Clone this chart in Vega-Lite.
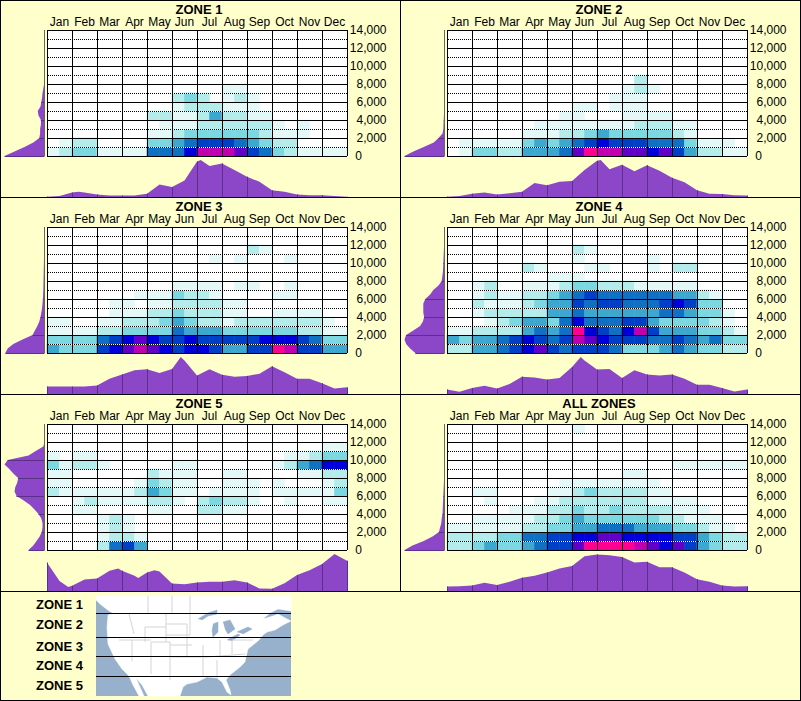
{"$schema":"https://vega.github.io/schema/vega-lite/v6.json","background":"#FFFFCC","padding":0,"autosize":{"type":"pad"},"columns":9,"spacing":0,"bounds":"flush","align":"each","data":{"name":"n"},
"config":{"font":"Liberation Sans","view":{"stroke":null},"legend":{"disable":true},"range":{"heatmap":["#ffffff","#e4f8f8","#b4ecec","#7cd8e0","#3ca8d0","#1070c4","#0040c8","#0000dc","#6000c8","#c000b0","#ff0090"],"ramp":["#ffffff","#e4f8f8","#b4ecec","#7cd8e0","#3ca8d0","#1070c4","#0040c8","#0000dc","#6000c8","#c000b0","#ff0090"]},"title":{"fontSize":13,"fontWeight":"bold","color":"#000","dx":2,"offset":-1}},
"datasets":{"n":[],
"mo":[{"m":0.5,"label":"Jan"},{"m":2.5,"label":"Feb"},{"m":4.5,"label":"Mar"},{"m":6.5,"label":"Apr"},{"m":8.5,"label":"May"},{"m":10.5,"label":"Jun"},{"m":12.5,"label":"Jul"},{"m":14.5,"label":"Aug"},{"m":16.5,"label":"Sep"},{"m":18.5,"label":"Oct"},{"m":20.5,"label":"Nov"},{"m":22.5,"label":"Dec"}],
"alt":[{"a":2000,"label":"2,000"},{"a":4000,"label":"4,000"},{"a":6000,"label":"6,000"},{"a":8000,"label":"8,000"},{"a":10000,"label":"10,000"},{"a":12000,"label":"12,000"},{"a":14000,"label":"14,000"}],
"z0":[{"a":0,"label":"0"}],
"hs":[{"a":0},{"a":2000},{"a":4000},{"a":6000},{"a":8000},{"a":10000},{"a":12000},{"a":14000}],
"hd":[{"a":1000},{"a":3000},{"a":5000},{"a":7000},{"a":9000},{"a":11000},{"a":13000}],
"vg":[{"m":-0.5},{"m":1.5},{"m":3.5},{"m":5.5},{"m":7.5},{"m":9.5},{"m":11.5},{"m":13.5},{"m":15.5},{"m":17.5},{"m":19.5},{"m":21.5},{"m":23.5}],
"d1":[{"m":0,"a":500,"v":1},{"m":1,"a":500,"v":2},{"m":2,"a":500,"v":3},{"m":3,"a":500,"v":3},{"m":4,"a":500,"v":1},{"m":5,"a":500,"v":1},{"m":6,"a":500,"v":1},{"m":7,"a":500,"v":1},{"m":8,"a":500,"v":5},{"m":9,"a":500,"v":5},{"m":10,"a":500,"v":5},{"m":11,"a":500,"v":7},{"m":12,"a":500,"v":9},{"m":13,"a":500,"v":9},{"m":14,"a":500,"v":9},{"m":15,"a":500,"v":8},{"m":16,"a":500,"v":6},{"m":17,"a":500,"v":5},{"m":18,"a":500,"v":3},{"m":19,"a":500,"v":2},{"m":20,"a":500,"v":1},{"m":21,"a":500,"v":1},{"m":22,"a":500,"v":1},{"m":23,"a":500,"v":1},
{"m":1,"a":1500,"v":1},{"m":2,"a":1500,"v":2},{"m":3,"a":1500,"v":2},{"m":8,"a":1500,"v":3},{"m":9,"a":1500,"v":3},{"m":10,"a":1500,"v":4},{"m":11,"a":1500,"v":5},{"m":12,"a":1500,"v":6},{"m":13,"a":1500,"v":6},{"m":14,"a":1500,"v":6},{"m":15,"a":1500,"v":5},{"m":16,"a":1500,"v":4},{"m":17,"a":1500,"v":3},{"m":18,"a":1500,"v":2},{"m":19,"a":1500,"v":2},
{"m":8,"a":2500,"v":1},{"m":9,"a":2500,"v":1},{"m":10,"a":2500,"v":2},{"m":11,"a":2500,"v":3},{"m":12,"a":2500,"v":3},{"m":13,"a":2500,"v":3},{"m":14,"a":2500,"v":3},{"m":15,"a":2500,"v":3},{"m":16,"a":2500,"v":3},{"m":17,"a":2500,"v":2},{"m":18,"a":2500,"v":1},{"m":19,"a":2500,"v":1},{"m":20,"a":2500,"v":1},
{"m":9,"a":3500,"v":1},{"m":10,"a":3500,"v":1},{"m":11,"a":3500,"v":1},{"m":12,"a":3500,"v":2},{"m":13,"a":3500,"v":2},{"m":14,"a":3500,"v":2},{"m":15,"a":3500,"v":2},{"m":16,"a":3500,"v":2},{"m":17,"a":3500,"v":2},{"m":18,"a":3500,"v":1},{"m":20,"a":3500,"v":1},
{"m":8,"a":4500,"v":2},{"m":9,"a":4500,"v":2},{"m":10,"a":4500,"v":1},{"m":11,"a":4500,"v":1},{"m":12,"a":4500,"v":2},{"m":13,"a":4500,"v":4},{"m":14,"a":4500,"v":2},{"m":15,"a":4500,"v":2},{"m":16,"a":4500,"v":1},{"m":17,"a":4500,"v":1},
{"m":10,"a":5500,"v":1},{"m":11,"a":5500,"v":2},{"m":12,"a":5500,"v":2},{"m":13,"a":5500,"v":2},{"m":14,"a":5500,"v":1},{"m":15,"a":5500,"v":1},{"m":16,"a":5500,"v":1},
{"m":10,"a":6500,"v":2},{"m":11,"a":6500,"v":3},{"m":12,"a":6500,"v":2},{"m":14,"a":6500,"v":1},{"m":15,"a":6500,"v":2},{"m":16,"a":6500,"v":1},{"m":14,"a":7500,"v":1},{"m":15,"a":7500,"v":1}],
"d2":[{"m":1,"a":500,"v":1},{"m":2,"a":500,"v":3},{"m":3,"a":500,"v":3},{"m":4,"a":500,"v":2},{"m":5,"a":500,"v":2},{"m":6,"a":500,"v":4},{"m":7,"a":500,"v":4},{"m":8,"a":500,"v":4},{"m":9,"a":500,"v":5},{"m":10,"a":500,"v":8},{"m":11,"a":500,"v":10},{"m":12,"a":500,"v":9},{"m":13,"a":500,"v":9},{"m":14,"a":500,"v":8},{"m":15,"a":500,"v":8},{"m":16,"a":500,"v":7},{"m":17,"a":500,"v":8},{"m":18,"a":500,"v":6},{"m":19,"a":500,"v":4},{"m":20,"a":500,"v":2},{"m":21,"a":500,"v":2},{"m":22,"a":500,"v":1},{"m":23,"a":500,"v":1},
{"m":1,"a":1500,"v":1},{"m":2,"a":1500,"v":1},{"m":3,"a":1500,"v":1},{"m":4,"a":1500,"v":1},{"m":5,"a":1500,"v":1},{"m":6,"a":1500,"v":3},{"m":7,"a":1500,"v":4},{"m":8,"a":1500,"v":3},{"m":9,"a":1500,"v":4},{"m":10,"a":1500,"v":5},{"m":11,"a":1500,"v":6},{"m":12,"a":1500,"v":7},{"m":13,"a":1500,"v":6},{"m":14,"a":1500,"v":6},{"m":15,"a":1500,"v":6},{"m":16,"a":1500,"v":5},{"m":17,"a":1500,"v":5},{"m":18,"a":1500,"v":5},{"m":19,"a":1500,"v":3},{"m":20,"a":1500,"v":1},{"m":21,"a":1500,"v":1},{"m":22,"a":1500,"v":1},
{"m":6,"a":2500,"v":1},{"m":7,"a":2500,"v":1},{"m":8,"a":2500,"v":1},{"m":9,"a":2500,"v":2},{"m":10,"a":2500,"v":2},{"m":11,"a":2500,"v":3},{"m":12,"a":2500,"v":4},{"m":13,"a":2500,"v":3},{"m":14,"a":2500,"v":3},{"m":15,"a":2500,"v":3},{"m":16,"a":2500,"v":3},{"m":17,"a":2500,"v":3},{"m":18,"a":2500,"v":2},{"m":19,"a":2500,"v":1},
{"m":7,"a":3500,"v":1},{"m":8,"a":3500,"v":1},{"m":9,"a":3500,"v":1},{"m":10,"a":3500,"v":1},{"m":11,"a":3500,"v":1},{"m":12,"a":3500,"v":1},{"m":13,"a":3500,"v":1},{"m":14,"a":3500,"v":1},{"m":15,"a":3500,"v":2},{"m":16,"a":3500,"v":2},{"m":17,"a":3500,"v":2},{"m":18,"a":3500,"v":1},{"m":19,"a":3500,"v":1},
{"m":9,"a":4500,"v":1},{"m":10,"a":4500,"v":1},{"m":14,"a":4500,"v":1},{"m":15,"a":4500,"v":1},{"m":16,"a":4500,"v":1},{"m":17,"a":4500,"v":1},{"m":10,"a":5500,"v":1},{"m":11,"a":5500,"v":1},{"m":13,"a":5500,"v":1},{"m":14,"a":5500,"v":1},{"m":15,"a":5500,"v":1},{"m":13,"a":6500,"v":1},{"m":14,"a":6500,"v":1},{"m":15,"a":6500,"v":1},{"m":14,"a":7500,"v":1},{"m":15,"a":7500,"v":2},{"m":16,"a":7500,"v":1},{"m":15,"a":8500,"v":2}],
"d3":[{"m":0,"a":500,"v":4},{"m":1,"a":500,"v":3},{"m":2,"a":500,"v":3},{"m":3,"a":500,"v":3},{"m":4,"a":500,"v":6},{"m":5,"a":500,"v":7},{"m":6,"a":500,"v":8},{"m":7,"a":500,"v":9},{"m":8,"a":500,"v":8},{"m":9,"a":500,"v":7},{"m":10,"a":500,"v":6},{"m":11,"a":500,"v":7},{"m":12,"a":500,"v":7},{"m":13,"a":500,"v":6},{"m":14,"a":500,"v":4},{"m":15,"a":500,"v":4},{"m":16,"a":500,"v":6},{"m":17,"a":500,"v":6},{"m":18,"a":500,"v":10},{"m":19,"a":500,"v":9},{"m":20,"a":500,"v":6},{"m":21,"a":500,"v":6},{"m":22,"a":500,"v":4},{"m":23,"a":500,"v":4},
{"m":0,"a":1500,"v":3},{"m":1,"a":1500,"v":3},{"m":2,"a":1500,"v":3},{"m":3,"a":1500,"v":3},{"m":4,"a":1500,"v":5},{"m":5,"a":1500,"v":6},{"m":6,"a":1500,"v":7},{"m":7,"a":1500,"v":8},{"m":8,"a":1500,"v":7},{"m":9,"a":1500,"v":6},{"m":10,"a":1500,"v":6},{"m":11,"a":1500,"v":7},{"m":12,"a":1500,"v":6},{"m":13,"a":1500,"v":6},{"m":14,"a":1500,"v":6},{"m":15,"a":1500,"v":6},{"m":16,"a":1500,"v":6},{"m":17,"a":1500,"v":7},{"m":18,"a":1500,"v":7},{"m":19,"a":1500,"v":7},{"m":20,"a":1500,"v":6},{"m":21,"a":1500,"v":5},{"m":22,"a":1500,"v":3},{"m":23,"a":1500,"v":3},
{"m":0,"a":2500,"v":1},{"m":1,"a":2500,"v":1},{"m":2,"a":2500,"v":1},{"m":3,"a":2500,"v":1},{"m":4,"a":2500,"v":2},{"m":5,"a":2500,"v":2},{"m":6,"a":2500,"v":3},{"m":7,"a":2500,"v":3},{"m":8,"a":2500,"v":3},{"m":9,"a":2500,"v":3},{"m":10,"a":2500,"v":5},{"m":11,"a":2500,"v":4},{"m":12,"a":2500,"v":4},{"m":13,"a":2500,"v":4},{"m":14,"a":2500,"v":3},{"m":15,"a":2500,"v":3},{"m":16,"a":2500,"v":3},{"m":17,"a":2500,"v":3},{"m":18,"a":2500,"v":3},{"m":19,"a":2500,"v":3},{"m":20,"a":2500,"v":2},{"m":21,"a":2500,"v":2},{"m":22,"a":2500,"v":1},{"m":23,"a":2500,"v":1},
{"m":0,"a":3500,"v":1},{"m":1,"a":3500,"v":1},{"m":4,"a":3500,"v":1},{"m":5,"a":3500,"v":1},{"m":6,"a":3500,"v":2},{"m":7,"a":3500,"v":2},{"m":8,"a":3500,"v":2},{"m":9,"a":3500,"v":3},{"m":10,"a":3500,"v":4},{"m":11,"a":3500,"v":3},{"m":12,"a":3500,"v":2},{"m":13,"a":3500,"v":2},{"m":14,"a":3500,"v":1},{"m":15,"a":3500,"v":2},{"m":16,"a":3500,"v":2},{"m":17,"a":3500,"v":2},{"m":18,"a":3500,"v":2},{"m":19,"a":3500,"v":2},{"m":20,"a":3500,"v":2},{"m":21,"a":3500,"v":2},{"m":22,"a":3500,"v":1},
{"m":5,"a":4500,"v":1},{"m":6,"a":4500,"v":1},{"m":7,"a":4500,"v":1},{"m":8,"a":4500,"v":2},{"m":9,"a":4500,"v":2},{"m":10,"a":4500,"v":3},{"m":11,"a":4500,"v":2},{"m":12,"a":4500,"v":2},{"m":13,"a":4500,"v":2},{"m":14,"a":4500,"v":1},{"m":15,"a":4500,"v":1},{"m":18,"a":4500,"v":1},{"m":19,"a":4500,"v":1},{"m":20,"a":4500,"v":1},{"m":21,"a":4500,"v":1},
{"m":5,"a":5500,"v":1},{"m":6,"a":5500,"v":1},{"m":8,"a":5500,"v":1},{"m":9,"a":5500,"v":1},{"m":10,"a":5500,"v":2},{"m":11,"a":5500,"v":2},{"m":12,"a":5500,"v":2},{"m":13,"a":5500,"v":2},{"m":14,"a":5500,"v":1},{"m":15,"a":5500,"v":1},
{"m":7,"a":6500,"v":1},{"m":8,"a":6500,"v":1},{"m":9,"a":6500,"v":1},{"m":10,"a":6500,"v":3},{"m":11,"a":6500,"v":2},{"m":12,"a":6500,"v":2},{"m":13,"a":6500,"v":1},{"m":18,"a":6500,"v":1},{"m":19,"a":6500,"v":1},
{"m":10,"a":7500,"v":1},{"m":11,"a":7500,"v":1},{"m":12,"a":7500,"v":1},{"m":13,"a":7500,"v":1},{"m":15,"a":7500,"v":1},{"m":16,"a":7500,"v":1},{"m":19,"a":7500,"v":1},{"m":13,"a":10500,"v":1},{"m":15,"a":10500,"v":1},{"m":19,"a":10500,"v":1},{"m":16,"a":11500,"v":2},{"m":17,"a":11500,"v":1}],
"d4":[{"m":0,"a":500,"v":2},{"m":1,"a":500,"v":2},{"m":2,"a":500,"v":4},{"m":3,"a":500,"v":4},{"m":4,"a":500,"v":5},{"m":5,"a":500,"v":6},{"m":6,"a":500,"v":7},{"m":7,"a":500,"v":8},{"m":8,"a":500,"v":6},{"m":9,"a":500,"v":5},{"m":10,"a":500,"v":6},{"m":11,"a":500,"v":6},{"m":12,"a":500,"v":6},{"m":13,"a":500,"v":5},{"m":14,"a":500,"v":3},{"m":15,"a":500,"v":3},{"m":16,"a":500,"v":3},{"m":17,"a":500,"v":4},{"m":18,"a":500,"v":5},{"m":19,"a":500,"v":4},{"m":20,"a":500,"v":3},{"m":21,"a":500,"v":3},{"m":22,"a":500,"v":2},{"m":23,"a":500,"v":2},
{"m":0,"a":1500,"v":4},{"m":1,"a":1500,"v":3},{"m":2,"a":1500,"v":4},{"m":3,"a":1500,"v":4},{"m":4,"a":1500,"v":5},{"m":5,"a":1500,"v":6},{"m":6,"a":1500,"v":7},{"m":7,"a":1500,"v":6},{"m":8,"a":1500,"v":5},{"m":9,"a":1500,"v":6},{"m":10,"a":1500,"v":9},{"m":11,"a":1500,"v":8},{"m":12,"a":1500,"v":7},{"m":13,"a":1500,"v":6},{"m":14,"a":1500,"v":6},{"m":15,"a":1500,"v":6},{"m":16,"a":1500,"v":5},{"m":17,"a":1500,"v":5},{"m":18,"a":1500,"v":6},{"m":19,"a":1500,"v":5},{"m":20,"a":1500,"v":4},{"m":21,"a":1500,"v":5},{"m":22,"a":1500,"v":3},{"m":23,"a":1500,"v":3},
{"m":0,"a":2500,"v":1},{"m":1,"a":2500,"v":1},{"m":2,"a":2500,"v":2},{"m":3,"a":2500,"v":2},{"m":4,"a":2500,"v":2},{"m":5,"a":2500,"v":2},{"m":6,"a":2500,"v":4},{"m":7,"a":2500,"v":5},{"m":8,"a":2500,"v":4},{"m":9,"a":2500,"v":5},{"m":10,"a":2500,"v":10},{"m":11,"a":2500,"v":7},{"m":12,"a":2500,"v":6},{"m":13,"a":2500,"v":5},{"m":14,"a":2500,"v":7},{"m":15,"a":2500,"v":9},{"m":16,"a":2500,"v":6},{"m":17,"a":2500,"v":4},{"m":18,"a":2500,"v":4},{"m":19,"a":2500,"v":4},{"m":20,"a":2500,"v":3},{"m":21,"a":2500,"v":3},{"m":22,"a":2500,"v":2},{"m":23,"a":2500,"v":1},
{"m":3,"a":3500,"v":1},{"m":4,"a":3500,"v":2},{"m":5,"a":3500,"v":3},{"m":6,"a":3500,"v":4},{"m":7,"a":3500,"v":4},{"m":8,"a":3500,"v":3},{"m":9,"a":3500,"v":5},{"m":10,"a":3500,"v":7},{"m":11,"a":3500,"v":5},{"m":12,"a":3500,"v":5},{"m":13,"a":3500,"v":5},{"m":14,"a":3500,"v":6},{"m":15,"a":3500,"v":6},{"m":16,"a":3500,"v":4},{"m":17,"a":3500,"v":3},{"m":18,"a":3500,"v":3},{"m":19,"a":3500,"v":3},{"m":20,"a":3500,"v":3},{"m":21,"a":3500,"v":2},{"m":22,"a":3500,"v":1},
{"m":2,"a":4500,"v":1},{"m":3,"a":4500,"v":2},{"m":4,"a":4500,"v":2},{"m":5,"a":4500,"v":2},{"m":6,"a":4500,"v":2},{"m":7,"a":4500,"v":2},{"m":8,"a":4500,"v":4},{"m":9,"a":4500,"v":4},{"m":10,"a":4500,"v":5},{"m":11,"a":4500,"v":4},{"m":12,"a":4500,"v":4},{"m":13,"a":4500,"v":4},{"m":14,"a":4500,"v":4},{"m":15,"a":4500,"v":4},{"m":16,"a":4500,"v":4},{"m":17,"a":4500,"v":5},{"m":18,"a":4500,"v":5},{"m":19,"a":4500,"v":4},{"m":20,"a":4500,"v":3},{"m":21,"a":4500,"v":3},{"m":22,"a":4500,"v":1},
{"m":2,"a":5500,"v":2},{"m":3,"a":5500,"v":1},{"m":4,"a":5500,"v":1},{"m":5,"a":5500,"v":1},{"m":6,"a":5500,"v":2},{"m":7,"a":5500,"v":3},{"m":8,"a":5500,"v":4},{"m":9,"a":5500,"v":4},{"m":10,"a":5500,"v":6},{"m":11,"a":5500,"v":5},{"m":12,"a":5500,"v":6},{"m":13,"a":5500,"v":6},{"m":14,"a":5500,"v":5},{"m":15,"a":5500,"v":5},{"m":16,"a":5500,"v":5},{"m":17,"a":5500,"v":6},{"m":18,"a":5500,"v":7},{"m":19,"a":5500,"v":6},{"m":20,"a":5500,"v":3},{"m":21,"a":5500,"v":3},
{"m":2,"a":6500,"v":1},{"m":3,"a":6500,"v":2},{"m":4,"a":6500,"v":1},{"m":5,"a":6500,"v":1},{"m":6,"a":6500,"v":2},{"m":7,"a":6500,"v":2},{"m":8,"a":6500,"v":3},{"m":9,"a":6500,"v":4},{"m":10,"a":6500,"v":5},{"m":11,"a":6500,"v":6},{"m":12,"a":6500,"v":5},{"m":13,"a":6500,"v":5},{"m":14,"a":6500,"v":5},{"m":15,"a":6500,"v":5},{"m":16,"a":6500,"v":5},{"m":17,"a":6500,"v":5},{"m":18,"a":6500,"v":4},{"m":19,"a":6500,"v":4},{"m":20,"a":6500,"v":2},{"m":21,"a":6500,"v":1},
{"m":2,"a":7500,"v":1},{"m":3,"a":7500,"v":2},{"m":6,"a":7500,"v":1},{"m":7,"a":7500,"v":1},{"m":8,"a":7500,"v":1},{"m":9,"a":7500,"v":2},{"m":10,"a":7500,"v":3},{"m":11,"a":7500,"v":3},{"m":12,"a":7500,"v":2},{"m":13,"a":7500,"v":2},{"m":14,"a":7500,"v":2},{"m":15,"a":7500,"v":1},{"m":16,"a":7500,"v":1},{"m":17,"a":7500,"v":1},{"m":18,"a":7500,"v":1},{"m":19,"a":7500,"v":1},
{"m":8,"a":8500,"v":1},{"m":9,"a":8500,"v":1},{"m":10,"a":8500,"v":1},{"m":6,"a":9500,"v":2},{"m":7,"a":9500,"v":1},{"m":11,"a":9500,"v":1},{"m":12,"a":9500,"v":1},{"m":16,"a":9500,"v":1},{"m":18,"a":9500,"v":2},{"m":19,"a":9500,"v":2},{"m":10,"a":10500,"v":1},{"m":16,"a":10500,"v":1},{"m":10,"a":11500,"v":2},{"m":11,"a":11500,"v":1}],
"d5":[{"m":4,"a":500,"v":2},{"m":5,"a":500,"v":5},{"m":6,"a":500,"v":6},{"m":7,"a":500,"v":4},{"m":4,"a":1500,"v":1},{"m":5,"a":1500,"v":2},{"m":6,"a":1500,"v":2},{"m":7,"a":1500,"v":1},{"m":4,"a":2500,"v":1},{"m":5,"a":2500,"v":2},{"m":6,"a":2500,"v":1},{"m":4,"a":3500,"v":1},{"m":5,"a":3500,"v":2},{"m":6,"a":3500,"v":1},
{"m":2,"a":4500,"v":1},{"m":3,"a":4500,"v":1},{"m":8,"a":4500,"v":1},{"m":9,"a":4500,"v":1},{"m":12,"a":4500,"v":2},{"m":13,"a":4500,"v":2},{"m":14,"a":4500,"v":1},{"m":15,"a":4500,"v":1},
{"m":2,"a":5500,"v":1},{"m":3,"a":5500,"v":2},{"m":4,"a":5500,"v":1},{"m":5,"a":5500,"v":1},{"m":6,"a":5500,"v":1},{"m":7,"a":5500,"v":1},{"m":8,"a":5500,"v":2},{"m":9,"a":5500,"v":2},{"m":10,"a":5500,"v":1},{"m":12,"a":5500,"v":2},{"m":13,"a":5500,"v":3},{"m":14,"a":5500,"v":2},{"m":15,"a":5500,"v":2},{"m":16,"a":5500,"v":1},{"m":19,"a":5500,"v":1},{"m":22,"a":5500,"v":1},{"m":23,"a":5500,"v":1},
{"m":0,"a":6500,"v":2},{"m":1,"a":6500,"v":1},{"m":2,"a":6500,"v":1},{"m":3,"a":6500,"v":1},{"m":4,"a":6500,"v":1},{"m":5,"a":6500,"v":1},{"m":6,"a":6500,"v":1},{"m":7,"a":6500,"v":2},{"m":8,"a":6500,"v":4},{"m":9,"a":6500,"v":3},{"m":10,"a":6500,"v":1},{"m":11,"a":6500,"v":1},{"m":13,"a":6500,"v":1},{"m":14,"a":6500,"v":1},{"m":15,"a":6500,"v":1},{"m":16,"a":6500,"v":1},{"m":18,"a":6500,"v":1},{"m":19,"a":6500,"v":1},{"m":20,"a":6500,"v":1},{"m":21,"a":6500,"v":1},{"m":22,"a":6500,"v":1},{"m":23,"a":6500,"v":3},
{"m":0,"a":7500,"v":1},{"m":1,"a":7500,"v":1},{"m":7,"a":7500,"v":1},{"m":8,"a":7500,"v":3},{"m":9,"a":7500,"v":2},{"m":10,"a":7500,"v":1},{"m":11,"a":7500,"v":1},{"m":14,"a":7500,"v":1},{"m":15,"a":7500,"v":1},{"m":16,"a":7500,"v":1},{"m":18,"a":7500,"v":1},{"m":22,"a":7500,"v":1},{"m":23,"a":7500,"v":2},
{"m":0,"a":8500,"v":1},{"m":1,"a":8500,"v":1},{"m":8,"a":8500,"v":2},{"m":9,"a":8500,"v":1},{"m":10,"a":8500,"v":1},{"m":11,"a":8500,"v":1},{"m":14,"a":8500,"v":1},{"m":15,"a":8500,"v":1},{"m":20,"a":8500,"v":1},{"m":21,"a":8500,"v":1},{"m":22,"a":8500,"v":2},{"m":23,"a":8500,"v":2},
{"m":0,"a":9500,"v":3},{"m":1,"a":9500,"v":1},{"m":2,"a":9500,"v":2},{"m":3,"a":9500,"v":2},{"m":4,"a":9500,"v":1},{"m":10,"a":9500,"v":1},{"m":11,"a":9500,"v":1},{"m":18,"a":9500,"v":1},{"m":19,"a":9500,"v":2},{"m":20,"a":9500,"v":4},{"m":21,"a":9500,"v":5},{"m":22,"a":9500,"v":7},{"m":23,"a":9500,"v":7},
{"m":0,"a":10500,"v":1},{"m":2,"a":10500,"v":1},{"m":3,"a":10500,"v":1},{"m":19,"a":10500,"v":1},{"m":20,"a":10500,"v":1},{"m":21,"a":10500,"v":2},{"m":22,"a":10500,"v":3},{"m":23,"a":10500,"v":3},{"m":22,"a":11500,"v":1},{"m":23,"a":11500,"v":1}],
"d6":[{"m":0,"a":500,"v":2},{"m":1,"a":500,"v":2},{"m":2,"a":500,"v":3},{"m":3,"a":500,"v":4},{"m":4,"a":500,"v":3},{"m":5,"a":500,"v":3},{"m":6,"a":500,"v":4},{"m":7,"a":500,"v":5},{"m":8,"a":500,"v":6},{"m":9,"a":500,"v":6},{"m":10,"a":500,"v":8},{"m":11,"a":500,"v":10},{"m":12,"a":500,"v":10},{"m":13,"a":500,"v":10},{"m":14,"a":500,"v":10},{"m":15,"a":500,"v":9},{"m":16,"a":500,"v":8},{"m":17,"a":500,"v":7},{"m":18,"a":500,"v":8},{"m":19,"a":500,"v":6},{"m":20,"a":500,"v":4},{"m":21,"a":500,"v":3},{"m":22,"a":500,"v":2},{"m":23,"a":500,"v":2},
{"m":0,"a":1500,"v":2},{"m":1,"a":1500,"v":2},{"m":2,"a":1500,"v":2},{"m":3,"a":1500,"v":2},{"m":4,"a":1500,"v":3},{"m":5,"a":1500,"v":3},{"m":6,"a":1500,"v":5},{"m":7,"a":1500,"v":5},{"m":8,"a":1500,"v":6},{"m":9,"a":1500,"v":6},{"m":10,"a":1500,"v":7},{"m":11,"a":1500,"v":7},{"m":12,"a":1500,"v":8},{"m":13,"a":1500,"v":8},{"m":14,"a":1500,"v":7},{"m":15,"a":1500,"v":7},{"m":16,"a":1500,"v":7},{"m":17,"a":1500,"v":7},{"m":18,"a":1500,"v":6},{"m":19,"a":1500,"v":6},{"m":20,"a":1500,"v":4},{"m":21,"a":1500,"v":3},{"m":22,"a":1500,"v":2},{"m":23,"a":1500,"v":2},
{"m":0,"a":2500,"v":1},{"m":1,"a":2500,"v":1},{"m":2,"a":2500,"v":1},{"m":3,"a":2500,"v":1},{"m":4,"a":2500,"v":1},{"m":5,"a":2500,"v":1},{"m":6,"a":2500,"v":2},{"m":7,"a":2500,"v":2},{"m":8,"a":2500,"v":3},{"m":9,"a":2500,"v":3},{"m":10,"a":2500,"v":4},{"m":11,"a":2500,"v":4},{"m":12,"a":2500,"v":5},{"m":13,"a":2500,"v":5},{"m":14,"a":2500,"v":5},{"m":15,"a":2500,"v":4},{"m":16,"a":2500,"v":4},{"m":17,"a":2500,"v":4},{"m":18,"a":2500,"v":3},{"m":19,"a":2500,"v":3},{"m":20,"a":2500,"v":2},{"m":21,"a":2500,"v":1},{"m":22,"a":2500,"v":1},
{"m":2,"a":3500,"v":1},{"m":3,"a":3500,"v":1},{"m":4,"a":3500,"v":1},{"m":5,"a":3500,"v":1},{"m":6,"a":3500,"v":1},{"m":7,"a":3500,"v":2},{"m":8,"a":3500,"v":2},{"m":9,"a":3500,"v":3},{"m":10,"a":3500,"v":4},{"m":11,"a":3500,"v":3},{"m":12,"a":3500,"v":3},{"m":13,"a":3500,"v":3},{"m":14,"a":3500,"v":3},{"m":15,"a":3500,"v":3},{"m":16,"a":3500,"v":3},{"m":17,"a":3500,"v":2},{"m":18,"a":3500,"v":2},{"m":19,"a":3500,"v":1},{"m":20,"a":3500,"v":1},{"m":21,"a":3500,"v":1},
{"m":5,"a":4500,"v":1},{"m":6,"a":4500,"v":1},{"m":7,"a":4500,"v":1},{"m":8,"a":4500,"v":2},{"m":9,"a":4500,"v":2},{"m":10,"a":4500,"v":3},{"m":11,"a":4500,"v":2},{"m":12,"a":4500,"v":2},{"m":13,"a":4500,"v":3},{"m":14,"a":4500,"v":2},{"m":15,"a":4500,"v":2},{"m":16,"a":4500,"v":2},{"m":17,"a":4500,"v":2},{"m":18,"a":4500,"v":1},{"m":19,"a":4500,"v":1},{"m":20,"a":4500,"v":1},
{"m":3,"a":5500,"v":1},{"m":7,"a":5500,"v":1},{"m":8,"a":5500,"v":1},{"m":9,"a":5500,"v":2},{"m":10,"a":5500,"v":2},{"m":11,"a":5500,"v":2},{"m":12,"a":5500,"v":2},{"m":13,"a":5500,"v":2},{"m":14,"a":5500,"v":2},{"m":15,"a":5500,"v":2},{"m":16,"a":5500,"v":1},{"m":17,"a":5500,"v":1},{"m":18,"a":5500,"v":1},{"m":19,"a":5500,"v":1},
{"m":2,"a":6500,"v":1},{"m":3,"a":6500,"v":1},{"m":8,"a":6500,"v":1},{"m":9,"a":6500,"v":1},{"m":10,"a":6500,"v":2},{"m":11,"a":6500,"v":3},{"m":12,"a":6500,"v":2},{"m":13,"a":6500,"v":2},{"m":14,"a":6500,"v":2},{"m":15,"a":6500,"v":2},{"m":16,"a":6500,"v":1},{"m":17,"a":6500,"v":1},
{"m":9,"a":7500,"v":1},{"m":10,"a":7500,"v":1},{"m":11,"a":7500,"v":1},{"m":12,"a":7500,"v":1},{"m":13,"a":7500,"v":1},{"m":14,"a":7500,"v":1},{"m":15,"a":7500,"v":1},{"m":16,"a":7500,"v":1},{"m":14,"a":8500,"v":1},{"m":15,"a":8500,"v":1},{"m":18,"a":9500,"v":1},{"m":19,"a":9500,"v":1},{"m":20,"a":9500,"v":1},{"m":21,"a":9500,"v":1},{"m":22,"a":9500,"v":1},{"m":23,"a":9500,"v":1},{"m":10,"a":13500,"v":1}],
"b1":[{"m":0,"v":1},{"m":0.5,"v":3},{"m":1,"v":12},{"m":1.25,"v":14},{"m":1.5,"v":12},{"m":2,"v":7},{"m":2.5,"v":4},{"m":3,"v":4},{"m":3.5,"v":4},{"m":4,"v":9},{"m":4.5,"v":34},{"m":5,"v":27},{"m":5.5,"v":45},{"m":6,"v":96},{"m":6.15,"v":100},{"m":6.5,"v":84},{"m":7,"v":91},{"m":7.5,"v":73},{"m":8,"v":55},{"m":8.5,"v":41},{"m":9,"v":18},{"m":9.5,"v":14},{"m":10,"v":7},{"m":10.5,"v":5},{"m":11,"v":5},{"m":11.5,"v":3},{"m":12,"v":1}],
"b2":[{"m":0,"v":1},{"m":0.5,"v":3},{"m":1,"v":9},{"m":1.5,"v":12},{"m":2,"v":7},{"m":2.5,"v":10},{"m":3,"v":14},{"m":3.5,"v":38},{"m":4,"v":32},{"m":4.5,"v":41},{"m":5,"v":43},{"m":5.5,"v":73},{"m":6,"v":98},{"m":6.15,"v":100},{"m":6.5,"v":75},{"m":7,"v":87},{"m":7.5,"v":70},{"m":8,"v":86},{"m":8.5,"v":71},{"m":9,"v":52},{"m":9.5,"v":40},{"m":10,"v":18},{"m":10.5,"v":9},{"m":11,"v":8},{"m":11.5,"v":5},{"m":12,"v":4}],
"b3":[{"m":0,"v":20},{"m":0.5,"v":20},{"m":1,"v":20},{"m":1.5,"v":20},{"m":2,"v":23},{"m":2.5,"v":41},{"m":3,"v":53},{"m":3.5,"v":64},{"m":4,"v":67},{"m":4.5,"v":57},{"m":5,"v":68},{"m":5.35,"v":100},{"m":5.5,"v":91},{"m":6,"v":50},{"m":6.5,"v":67},{"m":7,"v":52},{"m":7.5,"v":47},{"m":8,"v":49},{"m":8.5,"v":55},{"m":9,"v":75},{"m":9.5,"v":59},{"m":10,"v":41},{"m":10.5,"v":41},{"m":11,"v":29},{"m":11.5,"v":15},{"m":12,"v":18}],
"b4":[{"m":0,"v":12},{"m":0.5,"v":6},{"m":1,"v":16},{"m":1.5,"v":22},{"m":2,"v":15},{"m":2.5,"v":27},{"m":3,"v":47},{"m":3.5,"v":45},{"m":4,"v":39},{"m":4.5,"v":43},{"m":5,"v":73},{"m":5.35,"v":100},{"m":5.5,"v":91},{"m":6,"v":66},{"m":6.5,"v":68},{"m":7,"v":43},{"m":7.5,"v":64},{"m":8,"v":53},{"m":8.5,"v":50},{"m":9,"v":53},{"m":9.5,"v":41},{"m":10,"v":25},{"m":10.5,"v":25},{"m":11,"v":16},{"m":11.5,"v":7},{"m":12,"v":12}],
"b5":[{"m":0,"v":77},{"m":0.5,"v":27},{"m":0.85,"v":11},{"m":1,"v":14},{"m":1.5,"v":31},{"m":2,"v":34},{"m":2.5,"v":55},{"m":2.85,"v":61},{"m":3,"v":55},{"m":3.5,"v":41},{"m":3.65,"v":35},{"m":4,"v":50},{"m":4.3,"v":56},{"m":4.5,"v":53},{"m":5,"v":20},{"m":5.5,"v":18},{"m":6,"v":23},{"m":6.5,"v":25},{"m":7,"v":25},{"m":7.5,"v":29},{"m":8,"v":23},{"m":8.5,"v":7},{"m":9,"v":6},{"m":9.5,"v":21},{"m":10,"v":43},{"m":10.5,"v":56},{"m":11,"v":73},{"m":11.5,"v":100},{"m":12,"v":82}],
"b6":[{"m":0,"v":12},{"m":0.5,"v":13},{"m":1,"v":15},{"m":1.5,"v":22},{"m":2,"v":16},{"m":2.5,"v":25},{"m":3,"v":36},{"m":3.5,"v":41},{"m":4,"v":50},{"m":4.5,"v":61},{"m":5,"v":68},{"m":5.5,"v":94},{"m":6,"v":99},{"m":6.5,"v":97},{"m":7,"v":92},{"m":7.5,"v":77},{"m":8,"v":79},{"m":8.5,"v":64},{"m":9,"v":64},{"m":9.5,"v":50},{"m":10,"v":32},{"m":10.5,"v":25},{"m":11,"v":15},{"m":11.5,"v":12},{"m":12,"v":13}],
"l1":[{"a":0,"v":100},{"a":500,"v":75},{"a":1000,"v":50},{"a":1500,"v":28},{"a":2000,"v":13},{"a":2500,"v":11},{"a":3000,"v":11},{"a":3500,"v":9},{"a":4000,"v":9},{"a":4500,"v":15},{"a":5000,"v":17},{"a":5500,"v":10},{"a":6000,"v":8},{"a":6500,"v":6},{"a":7000,"v":5},{"a":7500,"v":3},{"a":8000,"v":1},{"a":9000,"v":0}],
"l2":[{"a":0,"v":100},{"a":500,"v":78},{"a":1000,"v":52},{"a":1500,"v":27},{"a":2000,"v":15},{"a":2500,"v":5},{"a":3000,"v":3},{"a":4000,"v":2},{"a":5000,"v":1},{"a":7000,"v":1},{"a":9000,"v":1},{"a":10000,"v":0}],
"l3":[{"a":0,"v":98},{"a":500,"v":92},{"a":1000,"v":78},{"a":1500,"v":55},{"a":2000,"v":30},{"a":2500,"v":24},{"a":3000,"v":18},{"a":3500,"v":13},{"a":4000,"v":10},{"a":5000,"v":6},{"a":6000,"v":4},{"a":7000,"v":3},{"a":9000,"v":2},{"a":11000,"v":1},{"a":13000,"v":1},{"a":14000,"v":0}],
"l4":[{"a":0,"v":73},{"a":500,"v":86},{"a":1000,"v":96},{"a":1500,"v":100},{"a":2000,"v":96},{"a":2500,"v":78},{"a":3000,"v":61},{"a":3500,"v":54},{"a":4000,"v":51},{"a":4500,"v":53},{"a":5000,"v":53},{"a":5500,"v":53},{"a":6000,"v":48},{"a":6500,"v":36},{"a":7000,"v":28},{"a":7500,"v":15},{"a":8000,"v":7},{"a":9000,"v":4},{"a":10000,"v":3},{"a":11000,"v":2},{"a":12000,"v":1},{"a":13000,"v":0}],
"l5":[{"a":0,"v":40},{"a":500,"v":28},{"a":1000,"v":20},{"a":1500,"v":12},{"a":2000,"v":7},{"a":2500,"v":5},{"a":3000,"v":5},{"a":3500,"v":8},{"a":4000,"v":15},{"a":4500,"v":25},{"a":5000,"v":36},{"a":5500,"v":52},{"a":6000,"v":70},{"a":6500,"v":75},{"a":7000,"v":73},{"a":7500,"v":68},{"a":8000,"v":66},{"a":8500,"v":78},{"a":9000,"v":88},{"a":9500,"v":100},{"a":10000,"v":92},{"a":10500,"v":40},{"a":11000,"v":22},{"a":11500,"v":3},{"a":12000,"v":0}],
"l6":[{"a":0,"v":100},{"a":500,"v":80},{"a":1000,"v":52},{"a":1500,"v":30},{"a":2000,"v":14},{"a":2500,"v":11},{"a":3000,"v":8},{"a":3500,"v":7},{"a":4000,"v":5},{"a":5000,"v":4},{"a":6000,"v":3},{"a":7000,"v":2},{"a":8000,"v":1},{"a":10000,"v":1},{"a":13000,"v":0}],
"sea":[{"mx":0,"mx2":195,"my":0,"my2":100}],
"land":[{"i":1,"mx":0,"my":0},{"i":2,"mx":195,"my":0},{"i":3,"mx":195,"my":15},{"i":4,"mx":182,"my":13},{"i":5,"mx":174,"my":17},{"i":6,"mx":167,"my":23},{"i":7,"mx":177,"my":20},{"i":8,"mx":182,"my":18},{"i":9,"mx":191,"my":23},{"i":10,"mx":195,"my":25},{"i":11,"mx":187,"my":29},{"i":12,"mx":179,"my":34},{"i":13,"mx":171,"my":36},{"i":14,"mx":167,"my":39},{"i":15,"mx":163,"my":44},{"i":16,"mx":157,"my":49},{"i":17,"mx":152,"my":53},{"i":18,"mx":150,"my":61},{"i":19,"mx":149,"my":66},{"i":20,"mx":144,"my":71},{"i":21,"mx":134,"my":79},{"i":22,"mx":130,"my":84},{"i":23,"mx":134,"my":94},{"i":24,"mx":135,"my":99},{"i":25,"mx":131,"my":96},{"i":26,"mx":126,"my":86},{"i":27,"mx":121,"my":82},{"i":28,"mx":111,"my":81},{"i":29,"mx":101,"my":86},{"i":30,"mx":91,"my":88},{"i":31,"mx":87,"my":91},{"i":32,"mx":84,"my":100},{"i":33,"mx":52,"my":100},{"i":34,"mx":46,"my":89},{"i":35,"mx":40,"my":82},{"i":36,"mx":44,"my":91},{"i":37,"mx":48,"my":100},{"i":38,"mx":43,"my":100},{"i":39,"mx":37,"my":89},{"i":40,"mx":33,"my":80},{"i":41,"mx":26,"my":73},{"i":42,"mx":19,"my":63},{"i":43,"mx":12,"my":48},{"i":44,"mx":11,"my":31},{"i":45,"mx":12,"my":19},{"i":46,"mx":17,"my":17},{"i":47,"mx":13,"my":15},{"i":48,"mx":4,"my":8},{"i":49,"mx":0,"my":4}],
"lakes":[{"p":1,"i":1,"mx":102,"my":23},{"p":1,"i":2,"mx":112,"my":17},{"p":1,"i":3,"mx":121,"my":14},{"p":1,"i":4,"mx":121,"my":18},{"p":1,"i":5,"mx":112,"my":20},{"p":1,"i":6,"mx":106,"my":24},{"p":2,"i":1,"mx":117,"my":28},{"p":2,"i":2,"mx":122,"my":26},{"p":2,"i":3,"mx":122,"my":36},{"p":2,"i":4,"mx":117,"my":41},{"p":2,"i":5,"mx":116,"my":34},{"p":3,"i":1,"mx":127,"my":26},{"p":3,"i":2,"mx":134,"my":24},{"p":3,"i":3,"mx":139,"my":33},{"p":3,"i":4,"mx":132,"my":38},{"p":3,"i":5,"mx":129,"my":33},{"p":4,"i":1,"mx":131,"my":44},{"p":4,"i":2,"mx":142,"my":38},{"p":4,"i":3,"mx":144,"my":39},{"p":4,"i":4,"mx":136,"my":45},{"p":5,"i":1,"mx":141,"my":36},{"p":5,"i":2,"mx":152,"my":31},{"p":5,"i":3,"mx":156,"my":33},{"p":5,"i":4,"mx":147,"my":38}],
"borders":[{"mx":52,"mx2":52,"my":0,"my2":18},{"mx":76,"mx2":76,"my":0,"my2":18},{"mx":94,"mx2":94,"my":0,"my2":39},{"mx":33,"mx2":38,"my":18,"my2":38},{"mx":49,"mx2":49,"my":31,"my2":46},{"mx":70,"mx2":70,"my":18,"my2":46},{"mx":49,"mx2":70,"my":31,"my2":31},{"mx":70,"mx2":91,"my":28,"my2":28},{"mx":70,"mx2":94,"my":39,"my2":39},{"mx":36,"mx2":36,"my":44,"my2":65},{"mx":23,"mx2":55,"my":44,"my2":44},{"mx":55,"mx2":55,"my":46,"my2":78},{"mx":74,"mx2":74,"my":46,"my2":84},{"mx":55,"mx2":74,"my":46,"my2":46},{"mx":74,"mx2":111,"my":61,"my2":61},{"mx":74,"mx2":96,"my":49,"my2":49},{"mx":91,"mx2":91,"my":28,"my2":61},{"mx":107,"mx2":107,"my":49,"my2":81},{"mx":121,"mx2":121,"my":64,"my2":82},{"mx":111,"mx2":149,"my":61,"my2":58},{"mx":124,"mx2":124,"my":44,"my2":61},{"mx":136,"mx2":136,"my":44,"my2":58},{"mx":136,"mx2":157,"my":44,"my2":44}],
"zlines":[{"mx":0,"mx2":195,"my":17.5},{"mx":0,"mx2":195,"my":41.5},{"mx":0,"mx2":195,"my":60.5},{"mx":0,"mx2":195,"my":80.5}],
"zlabels":[{"mx":-60,"my":9,"label":"ZONE 1"},{"mx":-60,"my":29,"label":"ZONE 2"},{"mx":-60,"my":51,"label":"ZONE 3"},{"mx":-60,"my":70,"label":"ZONE 4"},{"mx":-60,"my":90,"label":"ZONE 5"}]},
"concat":[
{"mark":"rect","width":1,"height":1,"view":{"fill":"#000"}},{"mark":"rect","width":46,"height":1,"view":{"fill":"#000"}},{"mark":"rect","width":300,"height":1,"view":{"fill":"#000"}},{"mark":"rect","width":53,"height":1,"view":{"fill":"#000"}},{"mark":"rect","width":1,"height":1,"view":{"fill":"#000"}},{"mark":"rect","width":46,"height":1,"view":{"fill":"#000"}},{"mark":"rect","width":300,"height":1,"view":{"fill":"#000"}},{"mark":"rect","width":53,"height":1,"view":{"fill":"#000"}},{"mark":"rect","width":1,"height":1,"view":{"fill":"#000"}},

{"mark":"rect","width":1,"height":29,"view":{"fill":"#000"}},{"mark":"rect","width":46,"height":29},{"mark":"rect","width":300,"height":29},{"mark":"rect","width":53,"height":29},{"mark":"rect","width":1,"height":29,"view":{"fill":"#000"}},{"mark":"rect","width":46,"height":29},{"mark":"rect","width":300,"height":29},{"mark":"rect","width":53,"height":29},{"mark":"rect","width":1,"height":29,"view":{"fill":"#000"}},

{"mark":"rect","width":1,"height":126,"view":{"fill":"#000"}},
{"width":46,"height":126,"data":{"name":"l1"},"layer":[{"mark":{"type":"area","orient":"horizontal","color":"#8c47c8"},"encoding":{"x":{"field":"v","type":"quantitative","stack":null,"scale":{"domain":[108.75,-6.25],"nice":false,"zero":false},"axis":null},"x2":{"datum":0},"y":{"field":"a","type":"quantitative","scale":{"domain":[0,14000],"nice":false},"axis":null}}},{"transform":[{"filter":"datum.a%2000==0&&datum.v>0"}],"mark":{"type":"rule","color":"#5a3088","yOffset":0.5},"encoding":{"x":{"field":"v","type":"quantitative"},"x2":{"datum":0},"y":{"field":"a","type":"quantitative"}}},{"mark":{"type":"rule","color":"#666"},"encoding":{"x":{"datum":0}}}]},
{"title":{"text":"ZONE 1"},"width":300,"height":126,"view":{"fill":"#fff"},"layer":[{"data":{"name":"d1"},"mark":{"type":"rect","width":12.5,"height":9,"strokeWidth":0.6},"encoding":{"x":{"field":"m","type":"quantitative","scale":{"domain":[-0.5,23.5],"nice":false,"zero":false},"axis":null},"y":{"field":"a","type":"quantitative","scale":{"domain":[0,14000],"nice":false},"axis":null},"color":{"field":"v","type":"quantitative","scale":{"domain":[0,10]}},"stroke":{"field":"v","type":"quantitative","scale":{"domain":[0,10]}}}},{"data":{"name":"hd"},"mark":{"type":"rule","color":"#fff","yOffset":0.5},"encoding":{"y":{"field":"a","type":"quantitative"}}},{"data":{"name":"hd"},"mark":{"type":"rule","color":"#000","strokeDash":[1,1],"yOffset":0.5},"encoding":{"y":{"field":"a","type":"quantitative"}}},{"data":{"name":"hs"},"mark":{"type":"rule","color":"#000","yOffset":0.5},"encoding":{"y":{"field":"a","type":"quantitative"}}},{"data":{"name":"vg"},"mark":{"type":"rule","color":"#000","xOffset":0.5},"encoding":{"x":{"field":"m","type":"quantitative"}}},{"data":{"name":"mo"},"mark":{"type":"text","fontSize":12,"color":"#000","baseline":"middle","dy":-8},"encoding":{"x":{"field":"m","type":"quantitative"},"y":{"datum":14000},"text":{"field":"label"}}},{"data":{"name":"alt"},"mark":{"type":"text","fontSize":12,"color":"#000","align":"right","baseline":"middle","dx":39.5},"encoding":{"x":{"datum":23.5},"y":{"field":"a","type":"quantitative"},"text":{"field":"label"}}},{"data":{"name":"z0"},"mark":{"type":"text","fontSize":12,"color":"#000","align":"right","baseline":"middle","dx":15},"encoding":{"x":{"datum":23.5},"y":{"field":"a","type":"quantitative"},"text":{"field":"label"}}}]},
{"mark":"rect","width":53,"height":126},{"mark":"rect","width":1,"height":126,"view":{"fill":"#000"}},
{"width":46,"height":126,"data":{"name":"l2"},"layer":[{"mark":{"type":"area","orient":"horizontal","color":"#8c47c8"},"encoding":{"x":{"field":"v","type":"quantitative","stack":null,"scale":{"domain":[108.75,-6.25],"nice":false,"zero":false},"axis":null},"x2":{"datum":0},"y":{"field":"a","type":"quantitative","scale":{"domain":[0,14000],"nice":false},"axis":null}}},{"transform":[{"filter":"datum.a%2000==0&&datum.v>0"}],"mark":{"type":"rule","color":"#5a3088","yOffset":0.5},"encoding":{"x":{"field":"v","type":"quantitative"},"x2":{"datum":0},"y":{"field":"a","type":"quantitative"}}},{"mark":{"type":"rule","color":"#666"},"encoding":{"x":{"datum":0}}}]},
{"title":{"text":"ZONE 2"},"width":300,"height":126,"view":{"fill":"#fff"},"layer":[{"data":{"name":"d2"},"mark":{"type":"rect","width":12.5,"height":9,"strokeWidth":0.6},"encoding":{"x":{"field":"m","type":"quantitative","scale":{"domain":[-0.5,23.5],"nice":false,"zero":false},"axis":null},"y":{"field":"a","type":"quantitative","scale":{"domain":[0,14000],"nice":false},"axis":null},"color":{"field":"v","type":"quantitative","scale":{"domain":[0,10]}},"stroke":{"field":"v","type":"quantitative","scale":{"domain":[0,10]}}}},{"data":{"name":"hd"},"mark":{"type":"rule","color":"#fff","yOffset":0.5},"encoding":{"y":{"field":"a","type":"quantitative"}}},{"data":{"name":"hd"},"mark":{"type":"rule","color":"#000","strokeDash":[1,1],"yOffset":0.5},"encoding":{"y":{"field":"a","type":"quantitative"}}},{"data":{"name":"hs"},"mark":{"type":"rule","color":"#000","yOffset":0.5},"encoding":{"y":{"field":"a","type":"quantitative"}}},{"data":{"name":"vg"},"mark":{"type":"rule","color":"#000","xOffset":0.5},"encoding":{"x":{"field":"m","type":"quantitative"}}},{"data":{"name":"mo"},"mark":{"type":"text","fontSize":12,"color":"#000","baseline":"middle","dy":-8},"encoding":{"x":{"field":"m","type":"quantitative"},"y":{"datum":14000},"text":{"field":"label"}}},{"data":{"name":"alt"},"mark":{"type":"text","fontSize":12,"color":"#000","align":"right","baseline":"middle","dx":39.5},"encoding":{"x":{"datum":23.5},"y":{"field":"a","type":"quantitative"},"text":{"field":"label"}}},{"data":{"name":"z0"},"mark":{"type":"text","fontSize":12,"color":"#000","align":"right","baseline":"middle","dx":15},"encoding":{"x":{"datum":23.5},"y":{"field":"a","type":"quantitative"},"text":{"field":"label"}}}]},
{"mark":"rect","width":53,"height":126},{"mark":"rect","width":1,"height":126,"view":{"fill":"#000"}},

{"mark":"rect","width":1,"height":41,"view":{"fill":"#000"}},{"mark":"rect","width":46,"height":41},
{"width":300,"height":41,"data":{"name":"b1"},"layer":[{"mark":{"type":"area","color":"#8c47c8"},"encoding":{"x":{"field":"m","type":"quantitative","scale":{"domain":[0,12],"nice":false,"zero":false},"axis":null},"y":{"field":"v","type":"quantitative","stack":null,"scale":{"domain":[0,111],"nice":false},"axis":null}}},{"transform":[{"filter":"datum.m==floor(datum.m)"}],"mark":{"type":"rule","color":"#5a3088","xOffset":0.5},"encoding":{"x":{"field":"m","type":"quantitative"},"y":{"field":"v","type":"quantitative"},"y2":{"datum":0}}}]},
{"mark":"rect","width":53,"height":41},{"mark":"rect","width":1,"height":41,"view":{"fill":"#000"}},{"mark":"rect","width":46,"height":41},
{"width":300,"height":41,"data":{"name":"b2"},"layer":[{"mark":{"type":"area","color":"#8c47c8"},"encoding":{"x":{"field":"m","type":"quantitative","scale":{"domain":[0,12],"nice":false,"zero":false},"axis":null},"y":{"field":"v","type":"quantitative","stack":null,"scale":{"domain":[0,111],"nice":false},"axis":null}}},{"transform":[{"filter":"datum.m==floor(datum.m)"}],"mark":{"type":"rule","color":"#5a3088","xOffset":0.5},"encoding":{"x":{"field":"m","type":"quantitative"},"y":{"field":"v","type":"quantitative"},"y2":{"datum":0}}}]},
{"mark":"rect","width":53,"height":41},{"mark":"rect","width":1,"height":41,"view":{"fill":"#000"}},

{"mark":"rect","width":1,"height":1,"view":{"fill":"#000"}},{"mark":"rect","width":46,"height":1,"view":{"fill":"#000"}},{"mark":"rect","width":300,"height":1,"view":{"fill":"#000"}},{"mark":"rect","width":53,"height":1,"view":{"fill":"#000"}},{"mark":"rect","width":1,"height":1,"view":{"fill":"#000"}},{"mark":"rect","width":46,"height":1,"view":{"fill":"#000"}},{"mark":"rect","width":300,"height":1,"view":{"fill":"#000"}},{"mark":"rect","width":53,"height":1,"view":{"fill":"#000"}},{"mark":"rect","width":1,"height":1,"view":{"fill":"#000"}},

{"mark":"rect","width":1,"height":29,"view":{"fill":"#000"}},{"mark":"rect","width":46,"height":29},{"mark":"rect","width":300,"height":29},{"mark":"rect","width":53,"height":29},{"mark":"rect","width":1,"height":29,"view":{"fill":"#000"}},{"mark":"rect","width":46,"height":29},{"mark":"rect","width":300,"height":29},{"mark":"rect","width":53,"height":29},{"mark":"rect","width":1,"height":29,"view":{"fill":"#000"}},

{"mark":"rect","width":1,"height":126,"view":{"fill":"#000"}},
{"width":46,"height":126,"data":{"name":"l3"},"layer":[{"mark":{"type":"area","orient":"horizontal","color":"#8c47c8"},"encoding":{"x":{"field":"v","type":"quantitative","stack":null,"scale":{"domain":[108.75,-6.25],"nice":false,"zero":false},"axis":null},"x2":{"datum":0},"y":{"field":"a","type":"quantitative","scale":{"domain":[0,14000],"nice":false},"axis":null}}},{"transform":[{"filter":"datum.a%2000==0&&datum.v>0"}],"mark":{"type":"rule","color":"#5a3088","yOffset":0.5},"encoding":{"x":{"field":"v","type":"quantitative"},"x2":{"datum":0},"y":{"field":"a","type":"quantitative"}}},{"mark":{"type":"rule","color":"#666"},"encoding":{"x":{"datum":0}}}]},
{"title":{"text":"ZONE 3"},"width":300,"height":126,"view":{"fill":"#fff"},"layer":[{"data":{"name":"d3"},"mark":{"type":"rect","width":12.5,"height":9,"strokeWidth":0.6},"encoding":{"x":{"field":"m","type":"quantitative","scale":{"domain":[-0.5,23.5],"nice":false,"zero":false},"axis":null},"y":{"field":"a","type":"quantitative","scale":{"domain":[0,14000],"nice":false},"axis":null},"color":{"field":"v","type":"quantitative","scale":{"domain":[0,10]}},"stroke":{"field":"v","type":"quantitative","scale":{"domain":[0,10]}}}},{"data":{"name":"hd"},"mark":{"type":"rule","color":"#fff","yOffset":0.5},"encoding":{"y":{"field":"a","type":"quantitative"}}},{"data":{"name":"hd"},"mark":{"type":"rule","color":"#000","strokeDash":[1,1],"yOffset":0.5},"encoding":{"y":{"field":"a","type":"quantitative"}}},{"data":{"name":"hs"},"mark":{"type":"rule","color":"#000","yOffset":0.5},"encoding":{"y":{"field":"a","type":"quantitative"}}},{"data":{"name":"vg"},"mark":{"type":"rule","color":"#000","xOffset":0.5},"encoding":{"x":{"field":"m","type":"quantitative"}}},{"data":{"name":"mo"},"mark":{"type":"text","fontSize":12,"color":"#000","baseline":"middle","dy":-8},"encoding":{"x":{"field":"m","type":"quantitative"},"y":{"datum":14000},"text":{"field":"label"}}},{"data":{"name":"alt"},"mark":{"type":"text","fontSize":12,"color":"#000","align":"right","baseline":"middle","dx":39.5},"encoding":{"x":{"datum":23.5},"y":{"field":"a","type":"quantitative"},"text":{"field":"label"}}},{"data":{"name":"z0"},"mark":{"type":"text","fontSize":12,"color":"#000","align":"right","baseline":"middle","dx":15},"encoding":{"x":{"datum":23.5},"y":{"field":"a","type":"quantitative"},"text":{"field":"label"}}}]},
{"mark":"rect","width":53,"height":126},{"mark":"rect","width":1,"height":126,"view":{"fill":"#000"}},
{"width":46,"height":126,"data":{"name":"l4"},"layer":[{"mark":{"type":"area","orient":"horizontal","color":"#8c47c8"},"encoding":{"x":{"field":"v","type":"quantitative","stack":null,"scale":{"domain":[108.75,-6.25],"nice":false,"zero":false},"axis":null},"x2":{"datum":0},"y":{"field":"a","type":"quantitative","scale":{"domain":[0,14000],"nice":false},"axis":null}}},{"transform":[{"filter":"datum.a%2000==0&&datum.v>0"}],"mark":{"type":"rule","color":"#5a3088","yOffset":0.5},"encoding":{"x":{"field":"v","type":"quantitative"},"x2":{"datum":0},"y":{"field":"a","type":"quantitative"}}},{"mark":{"type":"rule","color":"#666"},"encoding":{"x":{"datum":0}}}]},
{"title":{"text":"ZONE 4"},"width":300,"height":126,"view":{"fill":"#fff"},"layer":[{"data":{"name":"d4"},"mark":{"type":"rect","width":12.5,"height":9,"strokeWidth":0.6},"encoding":{"x":{"field":"m","type":"quantitative","scale":{"domain":[-0.5,23.5],"nice":false,"zero":false},"axis":null},"y":{"field":"a","type":"quantitative","scale":{"domain":[0,14000],"nice":false},"axis":null},"color":{"field":"v","type":"quantitative","scale":{"domain":[0,10]}},"stroke":{"field":"v","type":"quantitative","scale":{"domain":[0,10]}}}},{"data":{"name":"hd"},"mark":{"type":"rule","color":"#fff","yOffset":0.5},"encoding":{"y":{"field":"a","type":"quantitative"}}},{"data":{"name":"hd"},"mark":{"type":"rule","color":"#000","strokeDash":[1,1],"yOffset":0.5},"encoding":{"y":{"field":"a","type":"quantitative"}}},{"data":{"name":"hs"},"mark":{"type":"rule","color":"#000","yOffset":0.5},"encoding":{"y":{"field":"a","type":"quantitative"}}},{"data":{"name":"vg"},"mark":{"type":"rule","color":"#000","xOffset":0.5},"encoding":{"x":{"field":"m","type":"quantitative"}}},{"data":{"name":"mo"},"mark":{"type":"text","fontSize":12,"color":"#000","baseline":"middle","dy":-8},"encoding":{"x":{"field":"m","type":"quantitative"},"y":{"datum":14000},"text":{"field":"label"}}},{"data":{"name":"alt"},"mark":{"type":"text","fontSize":12,"color":"#000","align":"right","baseline":"middle","dx":39.5},"encoding":{"x":{"datum":23.5},"y":{"field":"a","type":"quantitative"},"text":{"field":"label"}}},{"data":{"name":"z0"},"mark":{"type":"text","fontSize":12,"color":"#000","align":"right","baseline":"middle","dx":15},"encoding":{"x":{"datum":23.5},"y":{"field":"a","type":"quantitative"},"text":{"field":"label"}}}]},
{"mark":"rect","width":53,"height":126},{"mark":"rect","width":1,"height":126,"view":{"fill":"#000"}},

{"mark":"rect","width":1,"height":41,"view":{"fill":"#000"}},{"mark":"rect","width":46,"height":41},
{"width":300,"height":41,"data":{"name":"b3"},"layer":[{"mark":{"type":"area","color":"#8c47c8"},"encoding":{"x":{"field":"m","type":"quantitative","scale":{"domain":[0,12],"nice":false,"zero":false},"axis":null},"y":{"field":"v","type":"quantitative","stack":null,"scale":{"domain":[0,111],"nice":false},"axis":null}}},{"transform":[{"filter":"datum.m==floor(datum.m)"}],"mark":{"type":"rule","color":"#5a3088","xOffset":0.5},"encoding":{"x":{"field":"m","type":"quantitative"},"y":{"field":"v","type":"quantitative"},"y2":{"datum":0}}}]},
{"mark":"rect","width":53,"height":41},{"mark":"rect","width":1,"height":41,"view":{"fill":"#000"}},{"mark":"rect","width":46,"height":41},
{"width":300,"height":41,"data":{"name":"b4"},"layer":[{"mark":{"type":"area","color":"#8c47c8"},"encoding":{"x":{"field":"m","type":"quantitative","scale":{"domain":[0,12],"nice":false,"zero":false},"axis":null},"y":{"field":"v","type":"quantitative","stack":null,"scale":{"domain":[0,111],"nice":false},"axis":null}}},{"transform":[{"filter":"datum.m==floor(datum.m)"}],"mark":{"type":"rule","color":"#5a3088","xOffset":0.5},"encoding":{"x":{"field":"m","type":"quantitative"},"y":{"field":"v","type":"quantitative"},"y2":{"datum":0}}}]},
{"mark":"rect","width":53,"height":41},{"mark":"rect","width":1,"height":41,"view":{"fill":"#000"}},

{"mark":"rect","width":1,"height":1,"view":{"fill":"#000"}},{"mark":"rect","width":46,"height":1,"view":{"fill":"#000"}},{"mark":"rect","width":300,"height":1,"view":{"fill":"#000"}},{"mark":"rect","width":53,"height":1,"view":{"fill":"#000"}},{"mark":"rect","width":1,"height":1,"view":{"fill":"#000"}},{"mark":"rect","width":46,"height":1,"view":{"fill":"#000"}},{"mark":"rect","width":300,"height":1,"view":{"fill":"#000"}},{"mark":"rect","width":53,"height":1,"view":{"fill":"#000"}},{"mark":"rect","width":1,"height":1,"view":{"fill":"#000"}},

{"mark":"rect","width":1,"height":29,"view":{"fill":"#000"}},{"mark":"rect","width":46,"height":29},{"mark":"rect","width":300,"height":29},{"mark":"rect","width":53,"height":29},{"mark":"rect","width":1,"height":29,"view":{"fill":"#000"}},{"mark":"rect","width":46,"height":29},{"mark":"rect","width":300,"height":29},{"mark":"rect","width":53,"height":29},{"mark":"rect","width":1,"height":29,"view":{"fill":"#000"}},

{"mark":"rect","width":1,"height":126,"view":{"fill":"#000"}},
{"width":46,"height":126,"data":{"name":"l5"},"layer":[{"mark":{"type":"area","orient":"horizontal","color":"#8c47c8"},"encoding":{"x":{"field":"v","type":"quantitative","stack":null,"scale":{"domain":[108.75,-6.25],"nice":false,"zero":false},"axis":null},"x2":{"datum":0},"y":{"field":"a","type":"quantitative","scale":{"domain":[0,14000],"nice":false},"axis":null}}},{"transform":[{"filter":"datum.a%2000==0&&datum.v>0"}],"mark":{"type":"rule","color":"#5a3088","yOffset":0.5},"encoding":{"x":{"field":"v","type":"quantitative"},"x2":{"datum":0},"y":{"field":"a","type":"quantitative"}}},{"mark":{"type":"rule","color":"#666"},"encoding":{"x":{"datum":0}}}]},
{"title":{"text":"ZONE 5"},"width":300,"height":126,"view":{"fill":"#fff"},"layer":[{"data":{"name":"d5"},"mark":{"type":"rect","width":12.5,"height":9,"strokeWidth":0.6},"encoding":{"x":{"field":"m","type":"quantitative","scale":{"domain":[-0.5,23.5],"nice":false,"zero":false},"axis":null},"y":{"field":"a","type":"quantitative","scale":{"domain":[0,14000],"nice":false},"axis":null},"color":{"field":"v","type":"quantitative","scale":{"domain":[0,10]}},"stroke":{"field":"v","type":"quantitative","scale":{"domain":[0,10]}}}},{"data":{"name":"hd"},"mark":{"type":"rule","color":"#fff","yOffset":0.5},"encoding":{"y":{"field":"a","type":"quantitative"}}},{"data":{"name":"hd"},"mark":{"type":"rule","color":"#000","strokeDash":[1,1],"yOffset":0.5},"encoding":{"y":{"field":"a","type":"quantitative"}}},{"data":{"name":"hs"},"mark":{"type":"rule","color":"#000","yOffset":0.5},"encoding":{"y":{"field":"a","type":"quantitative"}}},{"data":{"name":"vg"},"mark":{"type":"rule","color":"#000","xOffset":0.5},"encoding":{"x":{"field":"m","type":"quantitative"}}},{"data":{"name":"mo"},"mark":{"type":"text","fontSize":12,"color":"#000","baseline":"middle","dy":-8},"encoding":{"x":{"field":"m","type":"quantitative"},"y":{"datum":14000},"text":{"field":"label"}}},{"data":{"name":"alt"},"mark":{"type":"text","fontSize":12,"color":"#000","align":"right","baseline":"middle","dx":39.5},"encoding":{"x":{"datum":23.5},"y":{"field":"a","type":"quantitative"},"text":{"field":"label"}}},{"data":{"name":"z0"},"mark":{"type":"text","fontSize":12,"color":"#000","align":"right","baseline":"middle","dx":15},"encoding":{"x":{"datum":23.5},"y":{"field":"a","type":"quantitative"},"text":{"field":"label"}}}]},
{"mark":"rect","width":53,"height":126},{"mark":"rect","width":1,"height":126,"view":{"fill":"#000"}},
{"width":46,"height":126,"data":{"name":"l6"},"layer":[{"mark":{"type":"area","orient":"horizontal","color":"#8c47c8"},"encoding":{"x":{"field":"v","type":"quantitative","stack":null,"scale":{"domain":[108.75,-6.25],"nice":false,"zero":false},"axis":null},"x2":{"datum":0},"y":{"field":"a","type":"quantitative","scale":{"domain":[0,14000],"nice":false},"axis":null}}},{"transform":[{"filter":"datum.a%2000==0&&datum.v>0"}],"mark":{"type":"rule","color":"#5a3088","yOffset":0.5},"encoding":{"x":{"field":"v","type":"quantitative"},"x2":{"datum":0},"y":{"field":"a","type":"quantitative"}}},{"mark":{"type":"rule","color":"#666"},"encoding":{"x":{"datum":0}}}]},
{"title":{"text":"ALL ZONES"},"width":300,"height":126,"view":{"fill":"#fff"},"layer":[{"data":{"name":"d6"},"mark":{"type":"rect","width":12.5,"height":9,"strokeWidth":0.6},"encoding":{"x":{"field":"m","type":"quantitative","scale":{"domain":[-0.5,23.5],"nice":false,"zero":false},"axis":null},"y":{"field":"a","type":"quantitative","scale":{"domain":[0,14000],"nice":false},"axis":null},"color":{"field":"v","type":"quantitative","scale":{"domain":[0,10]}},"stroke":{"field":"v","type":"quantitative","scale":{"domain":[0,10]}}}},{"data":{"name":"hd"},"mark":{"type":"rule","color":"#fff","yOffset":0.5},"encoding":{"y":{"field":"a","type":"quantitative"}}},{"data":{"name":"hd"},"mark":{"type":"rule","color":"#000","strokeDash":[1,1],"yOffset":0.5},"encoding":{"y":{"field":"a","type":"quantitative"}}},{"data":{"name":"hs"},"mark":{"type":"rule","color":"#000","yOffset":0.5},"encoding":{"y":{"field":"a","type":"quantitative"}}},{"data":{"name":"vg"},"mark":{"type":"rule","color":"#000","xOffset":0.5},"encoding":{"x":{"field":"m","type":"quantitative"}}},{"data":{"name":"mo"},"mark":{"type":"text","fontSize":12,"color":"#000","baseline":"middle","dy":-8},"encoding":{"x":{"field":"m","type":"quantitative"},"y":{"datum":14000},"text":{"field":"label"}}},{"data":{"name":"alt"},"mark":{"type":"text","fontSize":12,"color":"#000","align":"right","baseline":"middle","dx":39.5},"encoding":{"x":{"datum":23.5},"y":{"field":"a","type":"quantitative"},"text":{"field":"label"}}},{"data":{"name":"z0"},"mark":{"type":"text","fontSize":12,"color":"#000","align":"right","baseline":"middle","dx":15},"encoding":{"x":{"datum":23.5},"y":{"field":"a","type":"quantitative"},"text":{"field":"label"}}}]},
{"mark":"rect","width":53,"height":126},{"mark":"rect","width":1,"height":126,"view":{"fill":"#000"}},

{"mark":"rect","width":1,"height":41,"view":{"fill":"#000"}},{"mark":"rect","width":46,"height":41},
{"width":300,"height":41,"data":{"name":"b5"},"layer":[{"mark":{"type":"area","color":"#8c47c8"},"encoding":{"x":{"field":"m","type":"quantitative","scale":{"domain":[0,12],"nice":false,"zero":false},"axis":null},"y":{"field":"v","type":"quantitative","stack":null,"scale":{"domain":[0,111],"nice":false},"axis":null}}},{"transform":[{"filter":"datum.m==floor(datum.m)"}],"mark":{"type":"rule","color":"#5a3088","xOffset":0.5},"encoding":{"x":{"field":"m","type":"quantitative"},"y":{"field":"v","type":"quantitative"},"y2":{"datum":0}}}]},
{"mark":"rect","width":53,"height":41},{"mark":"rect","width":1,"height":41,"view":{"fill":"#000"}},{"mark":"rect","width":46,"height":41},
{"width":300,"height":41,"data":{"name":"b6"},"layer":[{"mark":{"type":"area","color":"#8c47c8"},"encoding":{"x":{"field":"m","type":"quantitative","scale":{"domain":[0,12],"nice":false,"zero":false},"axis":null},"y":{"field":"v","type":"quantitative","stack":null,"scale":{"domain":[0,111],"nice":false},"axis":null}}},{"transform":[{"filter":"datum.m==floor(datum.m)"}],"mark":{"type":"rule","color":"#5a3088","xOffset":0.5},"encoding":{"x":{"field":"m","type":"quantitative"},"y":{"field":"v","type":"quantitative"},"y2":{"datum":0}}}]},
{"mark":"rect","width":53,"height":41},{"mark":"rect","width":1,"height":41,"view":{"fill":"#000"}},

{"mark":"rect","width":1,"height":1,"view":{"fill":"#000"}},{"mark":"rect","width":46,"height":1,"view":{"fill":"#000"}},{"mark":"rect","width":300,"height":1,"view":{"fill":"#000"}},{"mark":"rect","width":53,"height":1,"view":{"fill":"#000"}},{"mark":"rect","width":1,"height":1,"view":{"fill":"#000"}},{"mark":"rect","width":46,"height":1,"view":{"fill":"#000"}},{"mark":"rect","width":300,"height":1,"view":{"fill":"#000"}},{"mark":"rect","width":53,"height":1,"view":{"fill":"#000"}},{"mark":"rect","width":1,"height":1,"view":{"fill":"#000"}},

{"mark":"rect","width":1,"height":108,"view":{"fill":"#000"}},{"mark":"rect","width":46,"height":108},
{"width":300,"height":108,"layer":[
{"data":{"name":"sea"},"mark":{"type":"rect","color":"#97b0cc"},"encoding":{"x":{"field":"mx","type":"quantitative","scale":{"domain":[-49,251],"nice":false,"zero":false},"axis":null},"x2":{"field":"mx2"},"y":{"field":"my","type":"quantitative","scale":{"domain":[-4,104],"reverse":true,"nice":false,"zero":false},"axis":null},"y2":{"field":"my2"}}},
{"data":{"name":"land"},"mark":{"type":"line","fill":"#fff","stroke":"#fff","strokeWidth":0.5},"encoding":{"x":{"field":"mx","type":"quantitative"},"y":{"field":"my","type":"quantitative"},"order":{"field":"i","type":"quantitative"}}},
{"data":{"name":"lakes"},"mark":{"type":"line","fill":"#97b0cc","stroke":"#97b0cc","strokeWidth":0.5},"encoding":{"x":{"field":"mx","type":"quantitative"},"y":{"field":"my","type":"quantitative"},"detail":{"field":"p"},"order":{"field":"i","type":"quantitative"}}},
{"data":{"name":"borders"},"mark":{"type":"rule","color":"#d4d4d4"},"encoding":{"x":{"field":"mx","type":"quantitative"},"x2":{"field":"mx2"},"y":{"field":"my","type":"quantitative"},"y2":{"field":"my2"}}},
{"data":{"name":"zlines"},"mark":{"type":"rule","color":"#000"},"encoding":{"x":{"field":"mx","type":"quantitative"},"x2":{"field":"mx2"},"y":{"field":"my","type":"quantitative"}}},
{"data":{"name":"zlabels"},"mark":{"type":"text","align":"left","baseline":"middle","fontSize":13,"fontWeight":"bold","color":"#000"},"encoding":{"x":{"field":"mx","type":"quantitative"},"y":{"field":"my","type":"quantitative"},"text":{"field":"label"}}}]},
{"mark":"rect","width":53,"height":108},{"mark":"rect","width":1,"height":108},{"mark":"rect","width":46,"height":108},{"mark":"rect","width":300,"height":108},{"mark":"rect","width":53,"height":108},{"mark":"rect","width":1,"height":108,"view":{"fill":"#000"}},

{"mark":"rect","width":1,"height":1,"view":{"fill":"#000"}},{"mark":"rect","width":46,"height":1,"view":{"fill":"#000"}},{"mark":"rect","width":300,"height":1,"view":{"fill":"#000"}},{"mark":"rect","width":53,"height":1,"view":{"fill":"#000"}},{"mark":"rect","width":1,"height":1,"view":{"fill":"#000"}},{"mark":"rect","width":46,"height":1,"view":{"fill":"#000"}},{"mark":"rect","width":300,"height":1,"view":{"fill":"#000"}},{"mark":"rect","width":53,"height":1,"view":{"fill":"#000"}},{"mark":"rect","width":1,"height":1,"view":{"fill":"#000"}}
]}
